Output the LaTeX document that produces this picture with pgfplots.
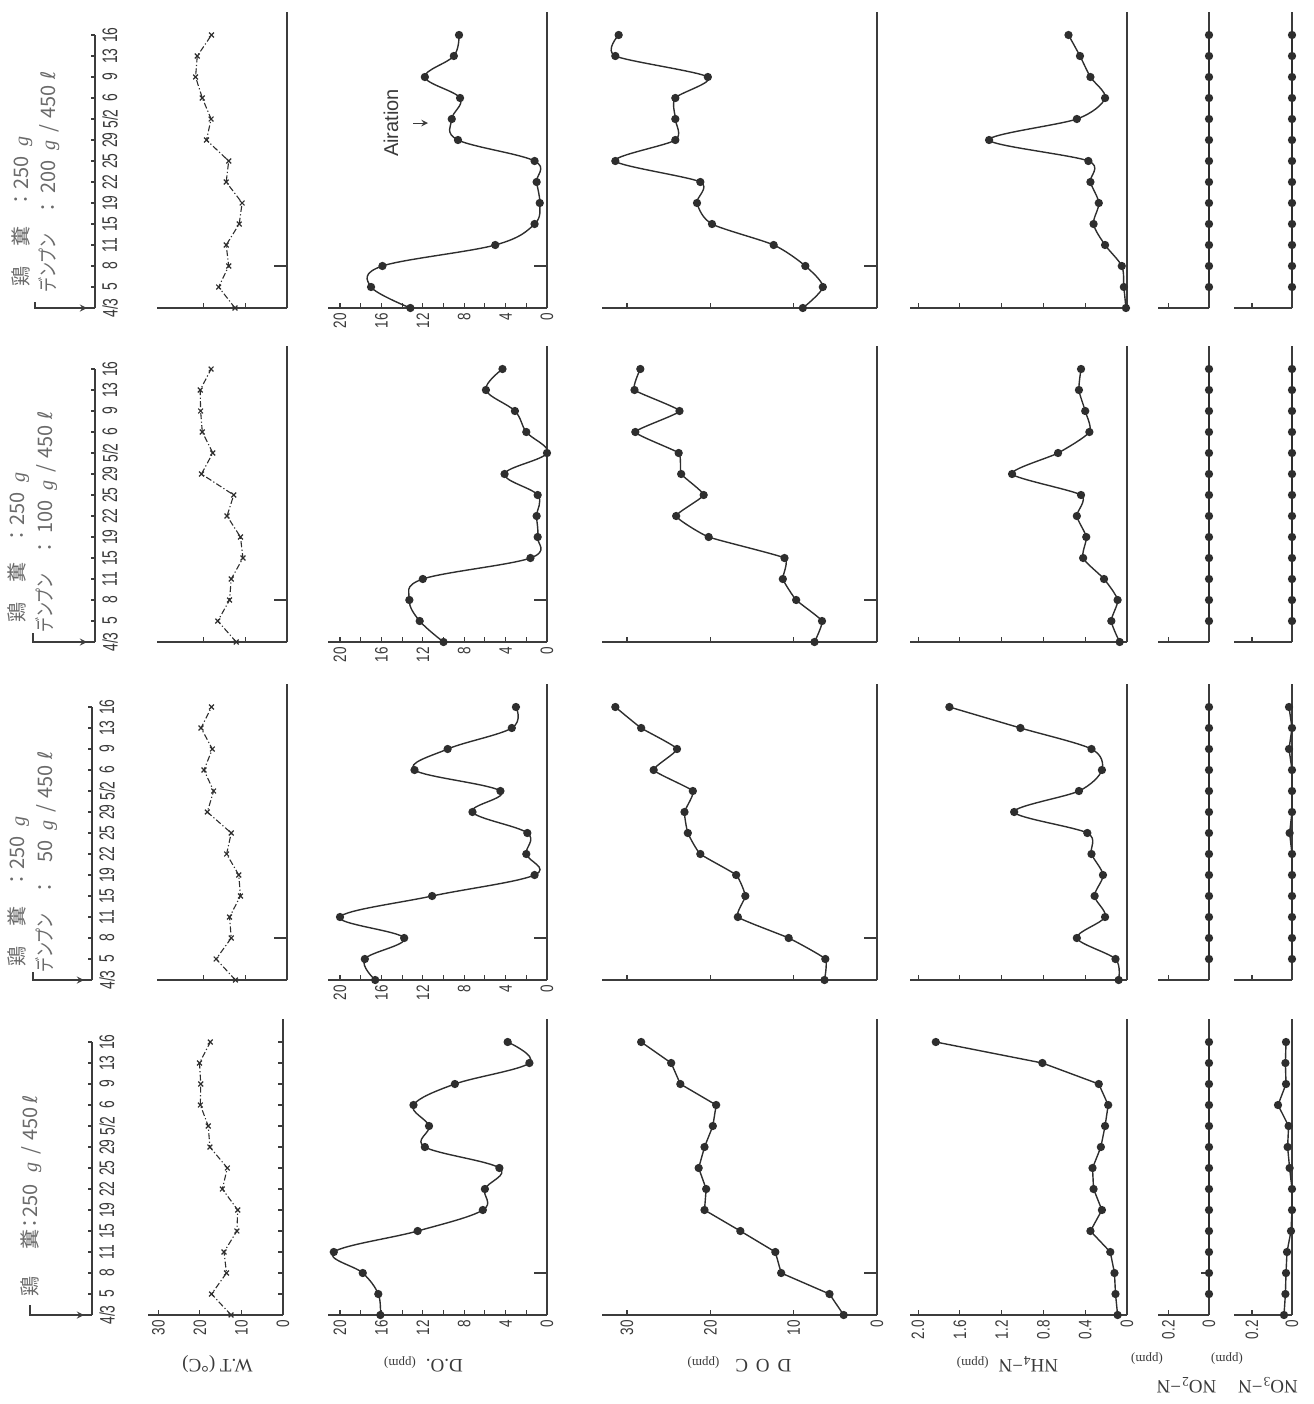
\documentclass[border=0pt]{standalone}
\usepackage{fontspec}
\usepackage{graphicx}
\usepackage{pgfplots}
\pgfplotsset{compat=1.18}
\usepackage{pgfplotstable}
\setmainfont{Liberation Serif}
\newfontfamily\cjk{Noto Sans CJK JP}
\newfontfamily\tickf[FakeStretch=0.75]{Liberation Sans}
\newfontfamily\datef[FakeStretch=0.66]{Liberation Sans}
\newfontfamily\sansf{Liberation Sans}
\newfontfamily\dejavu{DejaVu Sans}
\definecolor{ln}{HTML}{2E2E2E}
\definecolor{ax}{HTML}{3C3C3C}
\definecolor{txt}{HTML}{3A3A3A}
\definecolor{hd}{HTML}{6A6A6A}

% columns: i = date index (0 = 4/3 ... 13 = 5/16)
\pgfplotstableread{
i WT DO DOC NH NOb NOc
0 12.5 16.1 4.0 0.09 nan 0.040
1 17.2 16.3 5.7 0.11 0 0.033
2 13.6 17.8 11.5 0.12 0 0.030
3 14.2 20.6 12.2 0.16 0 0.025
4 11.1 12.5 16.4 0.35 0 0.005
5 10.9 6.2 20.7 0.24 0 0.000
6 14.6 6.0 20.5 0.32 0 0.000
7 13.4 4.6 21.4 0.33 0 0.012
8 17.6 11.8 20.7 0.25 0 0.022
9 18.0 11.4 19.7 0.21 0 0.017
10 19.9 12.9 19.3 0.18 0 0.070
11 19.8 8.9 23.6 0.27 0 0.030
12 20.1 1.7 24.7 0.81 0 0.033
13 17.5 3.8 28.3 1.83 0 0.030
}\gA
\pgfplotstableread{
i WT DO DOC NH NOb NOc
0 12.3 16.6 6.3 0.08 nan nan
1 16.9 17.6 6.2 0.11 0 0
2 13.3 13.8 10.6 0.48 0 0
3 13.7 20.0 16.7 0.21 0 0
4 11.1 11.1 15.8 0.31 0 0
5 11.5 1.2 16.9 0.23 0 0
6 14.4 2.0 21.2 0.34 0 0
7 13.3 1.9 22.7 0.38 0 0.012
8 19.0 7.2 23.1 1.08 0 0
9 17.5 4.5 22.1 0.46 0 0
10 19.8 12.8 26.8 0.24 0 0
11 17.8 9.6 24.0 0.34 0 0.015
12 20.5 3.4 28.3 1.02 0 0
13 18.0 3.0 31.4 1.70 0 0.015
}\gB
\pgfplotstableread{
i WT DO DOC NH NOb NOc
0 12.1 10.0 7.5 0.07 nan nan
1 16.5 12.3 6.6 0.15 0 0
2 13.7 13.3 9.7 0.09 0 0
3 13.3 12.0 11.3 0.22 0 0
4 10.5 1.6 11.1 0.42 0 0
5 11.1 0.9 20.2 0.39 0 0
6 14.3 1.0 24.1 0.48 0 0
7 12.7 0.9 20.8 0.44 0 0
8 20.4 4.1 23.5 1.10 0 0
9 17.7 0.0 23.8 0.66 0 0
10 20.2 2.0 29.0 0.36 0 0
11 20.6 3.1 23.7 0.40 0 0
12 20.7 5.9 29.1 0.46 0 0
13 18.1 4.3 28.4 0.44 0 0
}\gC
\pgfplotstableread{
i WT DO DOC NH NOb NOc
0 12.4 13.2 8.9 0.01 nan nan
1 16.3 17.0 6.5 0.03 0 0
2 13.9 15.9 8.6 0.05 0 0
3 14.5 5.0 12.4 0.21 0 0
4 11.4 1.2 19.8 0.32 0 0
5 10.7 0.7 21.6 0.27 0 0
6 14.5 1.0 21.2 0.35 0 0
7 13.9 1.2 31.4 0.37 0 0
8 19.2 8.6 24.2 1.32 0 0
9 18.1 9.2 24.2 0.48 0 0
10 20.2 8.4 24.2 0.21 0 0
11 21.8 11.8 20.3 0.35 0 0
12 21.4 9.0 31.4 0.45 0 0
13 18.0 8.5 31.0 0.56 0 0
}\gD

\pgfplotsset{
  panel/.style={scale only axis, x dir=reverse, anchor=south east, clip=false,
    ymin=0, ymax=14.1, height=148.05pt,
    axis x line*=bottom, axis y line*=right,
    tick align=inside, major tick length=2.5pt, minor tick length=2.5pt,
    axis line style={ax, line width=0.65pt},
    every tick/.append style={ax, line width=0.55pt},
    ytick=\empty, xticklabels={}, yticklabels={},
    xticklabel style={rotate=90, anchor=east, font=\tickf\fontsize{9}{10}\selectfont, text=txt, inner sep=2.5pt},
    xlabel style={at={(axis description cs:0.5,0)}, anchor=center, font=\fontsize{9.5}{11}\selectfont, text=txt},
  },
  lab/.style 2 args={xlabel style={xshift=#1, yshift=#2, rotate=180}},
  dots/.style={color=ln, line width=0.7pt, mark=*, mark size=1.7pt, mark options={solid, fill=ln}},
  wt/.style={color=ln, line width=0.55pt, mark=x, mark size=1.7pt, mark options={solid, line width=0.6pt}, dash pattern=on 3pt off 1.2pt on 0.6pt off 1.2pt},
  dateaxis/.style={scale only axis, anchor=south east, width=1pt, height=136.5pt,
    xmin=0, xmax=1, ymin=0, ymax=13, axis x line=none, axis y line*=right,
    tick align=inside, major tick length=2.2pt,
    axis line style={ax, line width=0.65pt}, every tick/.append style={ax, line width=0.55pt},
    ytick={0,...,13}, yticklabels={4/3,5,8,11,15,19,22,25,29,5/2,6,9,13,16},
    yticklabel style={rotate=90, anchor=north, font=\datef\fontsize{10.5}{12}\selectfont, text=txt, inner sep=3.5pt}},
}
% tick on the zero line at the third sampling date (5/8)
\newcommand{\dm}[1][6.5pt]{\draw[ax, line width=0.55pt] (axis cs:0,2) -- ++(-#1,0);}

\newcommand{\lineone}{鶏\hspace{10pt}糞\hspace{8.5pt}：\makebox[16.5pt][r]{250}\hspace{5pt}{\rmfamily\itshape g}}
\newcommand{\linetwo}[1]{\scalebox{0.75}[1]{デンプン}\hspace{8pt}：\makebox[18.5pt][r]{#1}\hspace{5pt}{\rmfamily\itshape g}\hspace{4pt}/\hspace{3pt}450\hspace{2.5pt}{\dejavu ℓ}}

\begin{document}
\begin{tikzpicture}
\useasboundingbox (0,0) rectangle (656.5pt,-702pt);

% ================= Group 1 : 250 g / 450 l =================
\begin{axis}[dateaxis, at={(46pt,-657.5pt)}]\end{axis}
\begin{axis}[panel, at={(141.5pt,-657.5pt)}, width=67.5pt, xmin=0, xmax=32.5,
  xtick={0,10,20,30}, xticklabels={0,10,20,30},
  xlabel={W.T (°C)}, lab={1pt}{-24.5pt}]
\addplot[wt] table[x=WT, y=i] {\gA};
\pgfplotsinvokeforeach{1,...,13}{\draw[ax, line width=0.55pt] (axis cs:0,#1) -- ++(-2.5pt,0);}
\end{axis}
\begin{axis}[panel, at={(273.5pt,-657.5pt)}, width=109.5pt, xmin=0, xmax=21.16,
  xtick={0,4,8,12,16,20}, minor xtick={2,6,10,14,18}, xticklabels={0,4,8,12,16,20},
  xlabel={D.O.\hspace{5pt}{\fontsize{6.5}{7}\selectfont(ppm)}}, lab={-7pt}{-24.5pt}]
\addplot[dots, smooth, tension=0.6] table[x=DO, y=i] {\gA};
\dm
\end{axis}
\begin{axis}[panel, at={(438.5pt,-657.5pt)}, width=137.5pt, xmin=0, xmax=33,
  xtick={0,10,20,30}, xticklabels={0,10,20,30},
  xlabel={D\hspace{4pt}O\hspace{4pt}C\hspace{8pt}{\fontsize{6.5}{7}\selectfont(ppm)}}, lab={0pt}{-24.5pt}]
\addplot[dots] table[x=DOC, y=i] {\gA};
\dm
\end{axis}
\begin{axis}[panel, at={(563.5pt,-657.5pt)}, width=108.5pt, xmin=0, xmax=2.077,
  xtick={0,0.4,0.8,1.2,1.6,2.0}, xticklabels={0,0.4,0.8,1.2,1.6,2.0},
  xlabel={NH\textsubscript{4}−N\hspace{5pt}{\fontsize{6.5}{7}\selectfont(ppm)}}, lab={-5.5pt}{-24.5pt}]
\addplot[dots] table[x=NH, y=i] {\gA};
\end{axis}
\begin{axis}[panel, at={(604.5pt,-657.5pt)}, width=25.5pt, xmin=0, xmax=0.252,
  xtick={0,0.2}, xticklabels={0,0.2},
  xlabel={NO\textsubscript{2}−N}, lab={1.5pt}{-35pt}]
\addplot[dots] table[x=NOb, y=i] {\gA};
\dm[4pt]
\end{axis}
\begin{axis}[panel, at={(646pt,-657.5pt)}, width=29pt, xmin=0, xmax=0.29,
  xtick={0,0.2}, xticklabels={0,0.2},
  xlabel={NO\textsubscript{3}−N}, lab={2.5pt}{-35pt}]
\addplot[dots] table[x=NOc, y=i] {\gA};
\end{axis}

% ================= Group 2 : + starch 50 g =================
\begin{axis}[dateaxis, at={(46pt,-490pt)}]\end{axis}
\begin{axis}[panel, at={(143.5pt,-490pt)}, width=65pt, xmin=0, xmax=31, xtick={10,20}]
\addplot[wt] table[x=WT, y=i] {\gB};
\dm
\end{axis}
\begin{axis}[panel, at={(273.5pt,-490pt)}, width=109.5pt, xmin=0, xmax=21.16,
  xtick={0,4,8,12,16,20}, minor xtick={2,6,10,14,18}, xticklabels={0,4,8,12,16,20}]
\addplot[dots, smooth, tension=0.6] table[x=DO, y=i] {\gB};
\dm
\end{axis}
\begin{axis}[panel, at={(438.5pt,-490pt)}, width=137.5pt, xmin=0, xmax=33, xtick={10,20,30}]
\addplot[dots, smooth, tension=0.25] table[x=DOC, y=i] {\gB};
\dm
\end{axis}
\begin{axis}[panel, at={(563.5pt,-490pt)}, width=108.5pt, xmin=0, xmax=2.077, xtick={0.4,0.8,1.2,1.6,2.0}]
\addplot[dots, smooth, tension=0.5] table[x=NH, y=i] {\gB};
\end{axis}
\begin{axis}[panel, at={(604.5pt,-490pt)}, width=25.5pt, xmin=0, xmax=0.252, xtick={0.2}]
\addplot[dots] table[x=NOb, y=i] {\gB};
\end{axis}
\begin{axis}[panel, at={(646pt,-490pt)}, width=29pt, xmin=0, xmax=0.29, xtick={0.2}]
\addplot[dots] table[x=NOc, y=i] {\gB};
\end{axis}

% ================= Group 3 : + starch 100 g =================
\begin{axis}[dateaxis, at={(47.5pt,-321pt)}]\end{axis}
\begin{axis}[panel, at={(143.5pt,-321pt)}, width=65pt, xmin=0, xmax=31, xtick={10,20}]
\addplot[wt] table[x=WT, y=i] {\gC};
\dm
\end{axis}
\begin{axis}[panel, at={(273.5pt,-321pt)}, width=109.5pt, xmin=0, xmax=21.16,
  xtick={0,4,8,12,16,20}, minor xtick={2,6,10,14,18}, xticklabels={0,4,8,12,16,20}]
\addplot[dots, smooth, tension=0.6] table[x=DO, y=i] {\gC};
\dm
\end{axis}
\begin{axis}[panel, at={(438.5pt,-321pt)}, width=137.5pt, xmin=0, xmax=33, xtick={10,20,30}]
\addplot[dots, smooth, tension=0.25] table[x=DOC, y=i] {\gC};
\dm
\end{axis}
\begin{axis}[panel, at={(563.5pt,-321pt)}, width=108.5pt, xmin=0, xmax=2.077, xtick={0.4,0.8,1.2,1.6,2.0}]
\addplot[dots, smooth, tension=0.4] table[x=NH, y=i] {\gC};
\end{axis}
\begin{axis}[panel, at={(604.5pt,-321pt)}, width=25.5pt, xmin=0, xmax=0.252, xtick={0.2}]
\addplot[dots] table[x=NOb, y=i] {\gC};
\end{axis}
\begin{axis}[panel, at={(646pt,-321pt)}, width=29pt, xmin=0, xmax=0.29, xtick={0.2}]
\addplot[dots] table[x=NOc, y=i] {\gC};
\end{axis}

% ================= Group 4 : + starch 200 g =================
\begin{axis}[dateaxis, at={(47.5pt,-154pt)}]\end{axis}
\begin{axis}[panel, at={(143.5pt,-154pt)}, width=65pt, xmin=0, xmax=31, xtick={10,20}]
\addplot[wt] table[x=WT, y=i] {\gD};
\dm
\end{axis}
\begin{axis}[panel, at={(273.5pt,-154pt)}, width=109.5pt, xmin=0, xmax=21.16,
  xtick={0,4,8,12,16,20}, minor xtick={2,6,10,14,18}, xticklabels={0,4,8,12,16,20}]
\addplot[dots, smooth, tension=0.6] table[x=DO, y=i] {\gD};
\dm
\end{axis}
\begin{axis}[panel, at={(438.5pt,-154pt)}, width=137.5pt, xmin=0, xmax=33, xtick={10,20,30}]
\addplot[dots, smooth, tension=0.45] table[x=DOC, y=i] {\gD};
\dm
\end{axis}
\begin{axis}[panel, at={(563.5pt,-154pt)}, width=108.5pt, xmin=0, xmax=2.077, xtick={0.4,0.8,1.2,1.6,2.0}]
\addplot[dots, smooth, tension=0.5] table[x=NH, y=i] {\gD};
\end{axis}
\begin{axis}[panel, at={(604.5pt,-154pt)}, width=25.5pt, xmin=0, xmax=0.252, xtick={0.2}]
\addplot[dots] table[x=NOb, y=i] {\gD};
\end{axis}
\begin{axis}[panel, at={(646pt,-154pt)}, width=29pt, xmin=0, xmax=0.29, xtick={0.2}]
\addplot[dots] table[x=NOc, y=i] {\gD};
\end{axis}

% ================= headers, brackets, notes (pixel units) =================
\begin{scope}[x=0.5pt, y=-0.5pt]
\tikzset{hdr/.style={rotate=90, anchor=base west, inner sep=0pt, text=hd, font=\cjk\fontsize{10}{12}\selectfont}}
\node[hdr] at (37,1297) {鶏\hspace{13.5pt}糞\makebox[6pt]{：}250\hspace{6pt}{\rmfamily\itshape g}\hspace{4pt}/\hspace{3pt}450\hspace{2pt}{\dejavu ℓ}};
\node[hdr] at (25,967) {\lineone};
\node[hdr] at (53,973) {\linetwo{50}};
\node[hdr] at (25,623) {\lineone};
\node[hdr] at (53,633) {\linetwo{100}};
\node[hdr] at (28,287) {\lineone};
\node[hdr] at (55,293) {\linetwo{200}};
\draw[ax, line width=0.6pt] (30,1305) |- (92,1315);
\draw[ax, line width=0.6pt, -stealth] (70,1315) -- (84,1315);
\draw[ax, line width=0.6pt] (33,972) |- (92,980);
\draw[ax, line width=0.6pt, -stealth] (70,980) -- (84,980);
\draw[ax, line width=0.6pt] (33,633) |- (95,642);
\draw[ax, line width=0.6pt, -stealth] (73,642) -- (87,642);
\draw[ax, line width=0.6pt] (35,302) |- (95,308);
\draw[ax, line width=0.6pt, -stealth] (73,308) -- (87,308);
\node[rotate=180, text=txt, font=\fontsize{6.5}{7}\selectfont] at (1147,1359) {(ppm)};
\node[rotate=180, text=txt, font=\fontsize{6.5}{7}\selectfont] at (1227,1359) {(ppm)};
\node[rotate=90, text=txt, font=\sansf\fontsize{10}{12}\selectfont] at (391,123) {Airation};
\draw[txt, line width=0.5pt, -stealth] (413,123) -- (428,123);
\end{scope}
\end{tikzpicture}
\end{document}
